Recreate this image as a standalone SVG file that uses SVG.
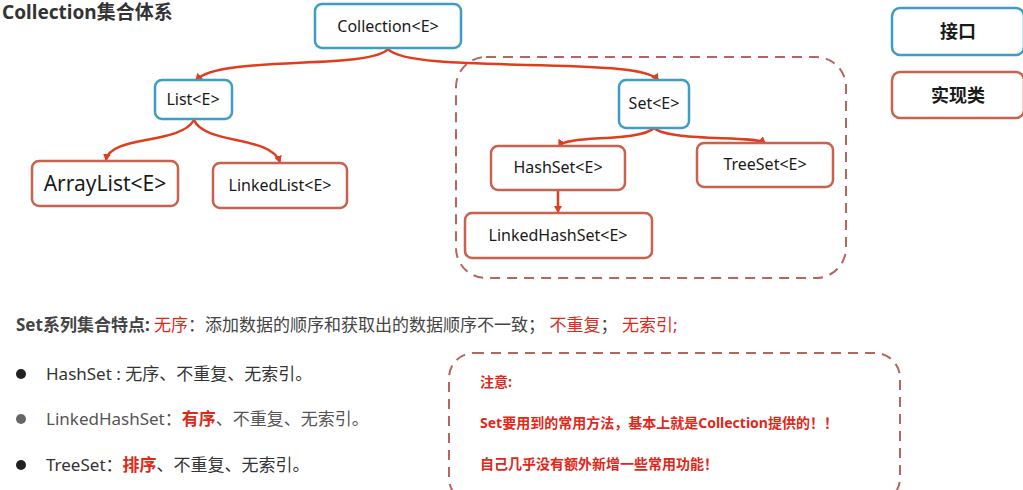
<svg xmlns="http://www.w3.org/2000/svg" width="1023" height="490" viewBox="0 0 1023 490">
<style>
.i{fill:#fff;stroke:#3f9cc3;stroke-width:2.5}
.c{fill:#fff;stroke:#c8614d;stroke-width:2.5}
.t{font-family:"Noto Sans","Noto Sans CJK SC",sans-serif;font-size:16px;fill:#1a1a1a;text-anchor:middle}
.e{fill:none;stroke:#e23c1e;stroke-width:2.5;marker-end:url(#a)}
.d{fill:none;stroke:#b5665d;stroke-width:2;stroke-dasharray:10 7}
.b{font-family:"Noto Sans","Noto Sans CJK SC",sans-serif;font-size:17px;fill:#333}
.r{fill:#e0281a}
</style>
<defs><marker id="a" markerWidth="8" markerHeight="8" refX="6" refY="4" orient="auto" markerUnits="userSpaceOnUse"><path d="M0,0 L7,4 L0,8 z" fill="#e23c1e"/></marker></defs>
<text x="2" y="19" font-family="Noto Sans,Noto Sans CJK SC,sans-serif" font-size="19" font-weight="bold" fill="#333">Collection集合体系</text>
<rect class="d" x="456" y="57" width="390" height="221" rx="30"/>
<g id="edges">
<path class="e" d="M388,49 C370,70 220,55 196,80"/>
<path class="e" d="M388,49 C410,75 640,55 658,80"/>
<path class="e" d="M194,120 C180,145 110,135 106,160"/>
<path class="e" d="M194,120 C205,145 270,135 280,162"/>
<path class="e" d="M654,128 C640,142 565,135 559,146"/>
<path class="e" d="M654,128 C670,142 755,135 765,143"/>
<path class="e" d="M558,191 L558,212"/>
</g>
<g id="collection"><rect class="i" x="315" y="4" width="146" height="44" rx="7"/><text class="t" x="388" y="32">Collection&lt;E&gt;</text></g>
<g id="list"><rect class="i" x="155" y="80" width="77" height="39" rx="7"/><text class="t" x="193" y="105">List&lt;E&gt;</text></g>
<g id="arraylist"><rect class="c" x="32" y="161" width="146" height="45" rx="7"/><text class="t" x="105" y="191" style="font-size:21px">ArrayList&lt;E&gt;</text></g>
<g id="linkedlist"><rect class="c" x="213" y="163" width="134" height="45" rx="7"/><text class="t" x="280" y="191">LinkedList&lt;E&gt;</text></g>
<g id="set"><rect class="i" x="619" y="80" width="70" height="48" rx="7"/><text class="t" x="654" y="109">Set&lt;E&gt;</text></g>
<g id="hashset"><rect class="c" x="491" y="146" width="134" height="44" rx="7"/><text class="t" x="558" y="173">HashSet&lt;E&gt;</text></g>
<g id="treeset"><rect class="c" x="697" y="143" width="136" height="44" rx="7"/><text class="t" x="765" y="170">TreeSet&lt;E&gt;</text></g>
<g id="linkedhashset"><rect class="c" x="465" y="213" width="187" height="45" rx="7"/><text class="t" x="558" y="241">LinkedHashSet&lt;E&gt;</text></g>
<g id="legend-i"><rect class="i" x="892" y="8" width="132" height="47" rx="8"/><text class="t" x="958" y="38" style="font-weight:bold;font-size:18px">接口</text></g>
<g id="legend-c"><rect class="c" x="892" y="72" width="132" height="46" rx="8"/><text class="t" x="958" y="102" style="font-weight:bold;font-size:18px">实现类</text></g>
<text x="16" y="331" font-family="Noto Sans,Noto Sans CJK SC,sans-serif" font-size="17" fill="#444"><tspan font-weight="bold">Set系列集合特点: </tspan><tspan class="r">无序</tspan>：添加数据的顺序和获取出的数据顺序不一致；  <tspan class="r">不重复</tspan>； <tspan class="r">无索引;</tspan></text>
<circle cx="21" cy="374" r="5" fill="#222"/>
<circle cx="21" cy="419" r="5" fill="#666"/>
<circle cx="21" cy="465" r="5" fill="#222"/>
<text class="b" x="46" y="380">HashSet : 无序、不重复、无索引。</text>
<text class="b" x="46" y="425" style="fill:#555">LinkedHashSet：<tspan class="r" font-weight="bold">有序</tspan>、不重复、无索引。</text>
<text class="b" x="46" y="471">TreeSet：<tspan class="r" font-weight="bold">排序</tspan>、不重复、无索引。</text>
<rect class="d" x="449" y="353" width="451" height="150" rx="25"/>
<g font-family="Noto Sans,Noto Sans CJK SC,sans-serif" font-size="14" font-weight="bold" fill="#e0281a">
<text x="480" y="387">注意:</text>
<text x="480" y="428">Set要用到的常用方法，基本上就是Collection提供的！！</text>
<text x="480" y="469">自己几乎没有额外新增一些常用功能！</text>
</g>
</svg>
